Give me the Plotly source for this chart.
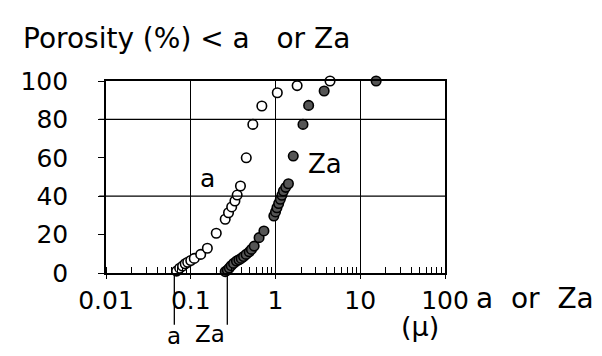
import math
import plotly.graph_objects as go

# pore size (micron) vs cumulative porosity (%) smaller than size
a_size = [0.068, 0.074, 0.080, 0.086, 0.092, 0.100, 0.110, 0.131, 0.157, 0.200, 0.255,
          0.279, 0.304, 0.332, 0.353, 0.386, 0.452, 0.54, 0.69, 1.05, 1.8, 4.4]
a_por = [1.0, 2.5, 3.6, 4.8, 5.6, 6.5, 7.6, 9.7, 12.9, 20.7, 28.0,
         31.4, 34.4, 37.5, 40.6, 45.3, 60.0, 77.4, 87.0, 93.9, 97.6, 100]

za_size = [0.255, 0.27, 0.285, 0.30, 0.32, 0.346, 0.37, 0.394, 0.42, 0.45, 0.49, 0.52,
           0.56, 0.64, 0.73, 0.956, 1.0, 1.04, 1.09, 1.14, 1.19, 1.24, 1.32, 1.42,
           1.62, 2.11, 2.46, 3.75, 15.4]
za_por = [0.7, 1.5, 2.6, 3.8, 5.0, 6.2, 6.9, 7.6, 8.6, 9.7, 11.0, 12.3,
          14.0, 18.4, 21.9, 29.7, 31.8, 34.0, 36.2, 38.4, 40.5, 42.7, 44.6, 46.5,
          60.9, 77.4, 87.3, 94.8, 100]

x_ticks = [0.01, 0.1, 1, 10, 100]
x_labels = ["0.01", "0.1", "1", "10", "100"]
y_ticks = [0, 20, 40, 60, 80, 100]
y_grid = [40, 80]

# size markers drawn below the axis
mark_names = ["a", "Za"]
mark_sizes = [0.064, 0.27]

FONT = "DejaVu Sans"
X_MIN, X_MAX = -2, 2


def xpaper(v):
    return (math.log10(v) - X_MIN) / (X_MAX - X_MIN)


def note(x, y, text, size, **kw):
    fig.add_annotation(x=x, y=y, xref="paper", yref="paper", text=text,
                       showarrow=False, xanchor=kw.pop("xanchor", "center"),
                       yanchor="middle", font=dict(size=size), **kw)


fig = go.Figure()
fig.add_trace(go.Scatter(
    x=a_size, y=a_por, mode="markers",
    marker=dict(size=9.5, color="white", line=dict(color="black", width=1.6)),
    cliponaxis=False))
fig.add_trace(go.Scatter(
    x=za_size, y=za_por, mode="markers",
    marker=dict(size=9.5, color="#555", line=dict(color="black", width=1.6)),
    cliponaxis=False))

for g in y_grid:
    fig.add_shape(type="line", xref="paper", yref="y", x0=-0.02, x1=1, y0=g, y1=g,
                  line=dict(color="black", width=1.3))

for s in mark_sizes:
    fig.add_shape(type="line", xref="paper", yref="paper", x0=xpaper(s), x1=xpaper(s),
                  y0=-0.01, y1=-0.27, line=dict(color="black", width=1.3))

note(xpaper(mark_sizes[0]), -0.33, mark_names[0], 23)
note(xpaper(mark_sizes[1]) - 0.05, -0.32, mark_names[1], 23)
note(1.087, -0.135, "a\u00a0\u00a0or\u00a0\u00a0Za", 28, xanchor="left")
note(0.925, -0.28, "(μ)", 27)
note(0.3, 0.49, "a", 25)
note(0.645, 0.57, "Za", 26)
note(-0.25, 1.22, "Porosity\u00a0(%)\u00a0&lt;\u00a0a\u00a0\u00a0\u00a0or\u00a0Za", 28,
     xanchor="left")

fig.update_xaxes(type="log", range=[X_MIN, X_MAX], tickvals=x_ticks, ticktext=x_labels,
                 showline=True, mirror=True, linecolor="black", linewidth=1.6,
                 showgrid=True, gridcolor="black", gridwidth=1.3,
                 ticks="outside", ticklen=4, tickcolor="black",
                 minor=dict(dtick="D1", ticks="inside", ticklen=6, tickcolor="black",
                            showgrid=False),
                 zeroline=False, tickfont=dict(size=25))
fig.update_yaxes(range=[0, 100], tickvals=y_ticks, showline=True, mirror=True,
                 linecolor="black", linewidth=1.6, showgrid=False, zeroline=False,
                 ticks="outside", ticklen=6, tickcolor="black",
                 ticklabelstandoff=25, tickfont=dict(size=25))

# page body adds ~8px offset, so margins are shifted to compensate
fig.update_layout(
    width=602, height=356,
    margin=dict(l=89, r=165, t=73, b=91),
    showlegend=False,
    font=dict(family=FONT, color="black"),
    paper_bgcolor="white", plot_bgcolor="white")

fig.write_html("out.html")
